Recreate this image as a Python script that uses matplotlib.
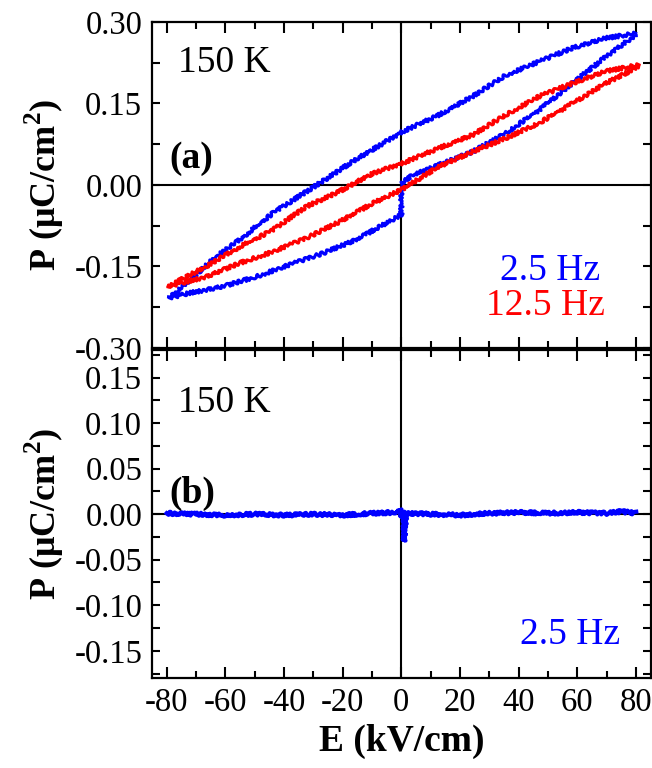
import matplotlib
matplotlib.use('Agg')
import matplotlib.pyplot as plt
from matplotlib.ticker import MultipleLocator, FormatStrFormatter

plt.rcParams['font.family'] = ['Liberation Serif', 'DejaVu Serif']
plt.rcParams['mathtext.fontset'] = 'custom'
plt.rcParams['mathtext.rm'] = 'Liberation Serif'
plt.rcParams['mathtext.bf'] = 'Liberation Serif:bold'
plt.rcParams['axes.unicode_minus'] = False

# (a) 2.5 Hz loop: upper branch (+80 -> -80) and lower branch (-80 -> +80)
blue_up_E = [79.9, 69.7, 58.3, 47.0, 35.6, 24.3, 12.9, 0.4, -16.6, -27.9, -43.8, -55.1, -63.1, -72.0, -79.0]
blue_up_P = [0.279, 0.270, 0.252, 0.227, 0.202, 0.163, 0.129, 0.098, 0.043, 0.003, -0.052, -0.101, -0.132, -0.175, -0.208]
blue_lo_E = [-79.0, -72.2, -60.8, -49.5, -38.1, -26.8, -15.4, 0.0, 0.0, 0.5, 3.9, 12.9, 24.3, 35.6, 47.0, 58.3, 69.7, 79.9]
blue_lo_P = [-0.208, -0.199, -0.187, -0.169, -0.147, -0.126, -0.101, -0.055, -0.018, 0.005, 0.018, 0.037, 0.061, 0.095, 0.138, 0.187, 0.236, 0.276]

# (a) 12.5 Hz loop
red_up_E = [81.0, 69.7, 58.3, 47.0, 35.6, 24.3, 12.9, 0.4, -9.8, -21.1, -32.4, -43.8, -55.1, -66.5, -79.5]
red_up_P = [0.221, 0.209, 0.187, 0.163, 0.129, 0.092, 0.068, 0.040, 0.021, -0.012, -0.040, -0.083, -0.114, -0.150, -0.187]
red_lo_E = [-79.5, -66.5, -55.1, -43.8, -32.4, -21.1, -9.8, 0.0, 12.9, 24.3, 35.6, 47.0, 58.3, 69.7, 81.0]
red_lo_P = [-0.187, -0.169, -0.144, -0.123, -0.098, -0.068, -0.034, -0.009, 0.034, 0.061, 0.086, 0.114, 0.150, 0.187, 0.218]

# (b) 2.5 Hz trace
b_E = [-80, -70, -60, -50, -40, -30, -20, -10, -2, -0.5, 0.0, 0.5, 1.0, 1.0, 1.5, 3, 10, 20, 30, 40, 50, 60, 70, 75, 80]
b_P = [0.001, 0.000, -0.001, 0.000, -0.001, 0.000, -0.001, 0.001, 0.002, 0.006, -0.004, 0.003, 0.000, -0.029, 0.000, 0.001, 0.000, -0.001, 0.001, 0.002, 0.001, 0.002, 0.001, 0.003, 0.001]

BLUE = '#0000ff'
RED = '#ff0000'

fig = plt.figure(figsize=(6.52, 7.68), dpi=100)
ax1 = fig.add_axes([0.233, 0.547, 0.765, 0.4245])
ax2 = fig.add_axes([0.233, 0.117, 0.765, 0.427])

for ax in (ax1, ax2):
    ax.axvline(0, color='black', lw=1.5, zorder=1)
    ax.axhline(0, color='black', lw=1.5, zorder=1)

for E, P, c in [(blue_up_E, blue_up_P, BLUE), (blue_lo_E, blue_lo_P, BLUE),
                (red_up_E, red_up_P, RED), (red_lo_E, red_lo_P, RED)]:
    ln, = ax1.plot(E, P, color=c, lw=2.2, zorder=3)
    ln.set_sketch_params(1.8, 5, 3)

ln, = ax2.plot(b_E, b_P, color=BLUE, lw=3.0, zorder=3)
ln.set_sketch_params(1.6, 4, 3)

ax1.set_ylim(-0.30, 0.30)
ax1.yaxis.set_major_locator(MultipleLocator(0.15))
ax1.yaxis.set_minor_locator(MultipleLocator(0.075))
ax2.set_ylim(-0.18, 0.18)
ax2.yaxis.set_major_locator(MultipleLocator(0.05))
ax2.yaxis.set_minor_locator(MultipleLocator(0.025))

for ax in (ax1, ax2):
    ax.set_xlim(-85, 85)
    ax.xaxis.set_major_locator(MultipleLocator(20))
    ax.xaxis.set_minor_locator(MultipleLocator(10))
    ax.yaxis.set_major_formatter(FormatStrFormatter('%.2f'))
    ax.tick_params(which='both', direction='in', top=True, right=True, width=1.5, labelsize=23.5, pad=7)
    ax.tick_params(axis='x', which='major', length=8)
    ax.tick_params(axis='x', which='minor', length=5)
    ax.tick_params(axis='y', which='both', length=6)
    for s in ax.spines.values():
        s.set_linewidth(1.6)
    ax.set_ylabel('P (μC/cm$^{\\mathbf{2}}$)', fontsize=26, fontweight='bold', labelpad=6)

ax1.tick_params(axis='x', labelbottom=False)
ax2.set_xlabel('E (kV/cm)', fontsize=27, fontweight='bold', labelpad=4)
fig.align_ylabels([ax1, ax2])

ax1.text(0.052, 0.847, '150 K', transform=ax1.transAxes, fontsize=27, va='baseline')
ax1.text(0.036, 0.552, '(a)', transform=ax1.transAxes, fontsize=27, fontweight='bold', va='baseline')
ax1.text(0.898, 0.209, '2.5 Hz', transform=ax1.transAxes, fontsize=27, color=BLUE, ha='right', va='baseline')
ax1.text(0.908, 0.101, '12.5 Hz', transform=ax1.transAxes, fontsize=27, color=RED, ha='right', va='baseline')

ax2.text(0.052, 0.811, '150 K', transform=ax2.transAxes, fontsize=27, va='baseline')
ax2.text(0.036, 0.534, '(b)', transform=ax2.transAxes, fontsize=27, fontweight='bold', va='baseline')
ax2.text(0.938, 0.104, '2.5 Hz', transform=ax2.transAxes, fontsize=27, color=BLUE, ha='right', va='baseline')

fig.savefig('out.png', dpi=100)
